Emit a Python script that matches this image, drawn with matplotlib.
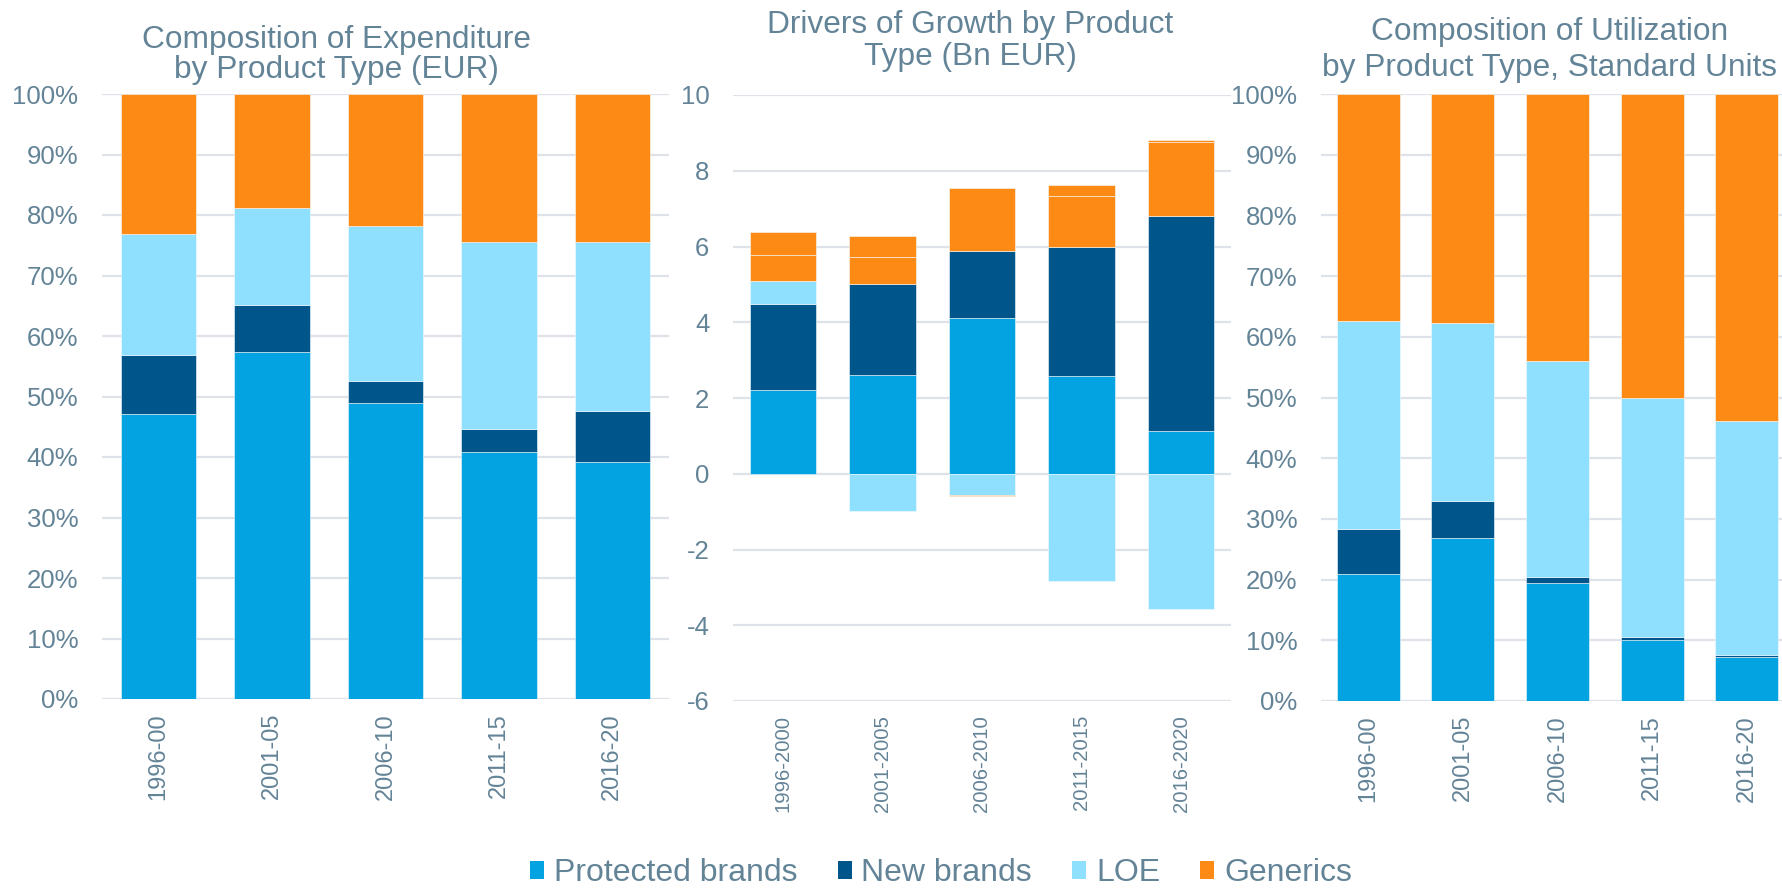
import matplotlib
matplotlib.use("Agg")
import numpy as np
import matplotlib.pyplot as plt
from matplotlib.patches import Patch

plt.rcParams['font.family'] = ['Liberation Sans', 'DejaVu Sans']
plt.rcParams['axes.unicode_minus'] = False

# ---- data ----
periods_short = ["1996-00", "2001-05", "2006-10", "2011-15", "2016-20"]
periods_long = ["1996-2000", "2001-2005", "2006-2010", "2011-2015", "2016-2020"]

# composition of expenditure (% share)
exp_protected = [47.1, 57.3, 49.0, 40.8, 39.2]
exp_new = [9.7, 7.9, 3.6, 3.8, 8.4]
exp_loe = [20.1, 15.9, 25.5, 30.9, 28.0]
exp_generics = [23.1, 18.9, 21.9, 24.5, 24.4]

# drivers of growth (Bn EUR)
gr_protected = [2.20, 2.62, 4.12, 2.57, 1.12]
gr_new = [2.28, 2.40, 1.77, 3.41, 5.69]
gr_loe = [0.61, -0.98, -0.55, -2.83, -3.57]
gr_generics = [0.69, 0.70, 1.65, 1.35, 1.94]
gr_generics_b = [0.61, 0.56, -0.03, 0.30, 0.06]

# composition of utilization (% share)
use_protected = [20.9, 26.8, 19.4, 10.1, 7.3]
use_new = [7.4, 6.1, 1.0, 0.5, 0.3]
use_loe = [34.3, 29.4, 35.6, 39.4, 38.6]
use_generics = [37.4, 37.7, 44.0, 50.0, 53.8]

legend_labels = ["Protected brands", "New brands", "LOE", "Generics"]

# ---- style ----
C_PROT = "#03a2e0"
C_NEW = "#00568a"
C_LOE = "#8fe0ff"
C_GEN = "#fd8a14"
TXT = "#638397"
GRID = "#dde3e8"

W, H = 1783, 889
fig = plt.figure(figsize=(W / 100, H / 100), dpi=100)


def px_axes(x0, x1, y_top, y_bot):
    return fig.add_axes([x0 / W, 1 - y_bot / H, (x1 - x0) / W, (y_bot - y_top) / H])


def style_axis(ax, xlabels, xsize):
    for s in ax.spines.values():
        s.set_visible(False)
    ax.set_axisbelow(True)
    ax.yaxis.grid(True, color=GRID, linewidth=1.6)
    ax.tick_params(axis='y', length=0, pad=17, labelsize=18.5, labelcolor=TXT)
    ax.tick_params(axis='x', length=0, pad=10, labelsize=xsize, labelcolor=TXT)
    ax.set_xticks(range(len(xlabels)))
    ax.set_xticklabels(xlabels, rotation=90)
    ax.set_xlim(-0.5, len(xlabels) - 0.5)


def stacked(ax, series, colors, width):
    x = np.arange(len(series[0]))
    pos = np.zeros(len(x))
    neg = np.zeros(len(x))
    for vals, col in zip(series, colors):
        v = np.array(vals, dtype=float)
        bottom = np.where(v >= 0, pos, neg)
        ax.bar(x, v, width, bottom=bottom, color=col, edgecolor='#f4fbff', linewidth=0.4)
        pos = pos + np.where(v >= 0, v, 0)
        neg = neg + np.where(v < 0, v, 0)


# left chart
ax1 = px_axes(102, 669, 94, 699)
stacked(ax1, [exp_protected, exp_new, exp_loe, exp_generics],
        [C_PROT, C_NEW, C_LOE, C_GEN], 0.666)
style_axis(ax1, periods_short, 17)
ax1.set_ylim(0, 100)
ax1.set_yticks(np.arange(0, 101, 10))
ax1.set_yticklabels([f"{v}%" for v in range(0, 101, 10)])

# middle chart
ax2 = px_axes(733, 1231, 95, 701)
stacked(ax2, [gr_protected, gr_new, gr_loe, gr_generics, gr_generics_b],
        [C_PROT, C_NEW, C_LOE, C_GEN, C_GEN], 0.665)
style_axis(ax2, periods_long, 14.6)
ax2.set_ylim(-6, 10)
ax2.set_yticks(np.arange(-6, 11, 2))

# right chart (runs past the figure edge, like the original)
ax3 = px_axes(1321, 1794, 94, 701)
stacked(ax3, [use_protected, use_new, use_loe, use_generics],
        [C_PROT, C_NEW, C_LOE, C_GEN], 0.665)
style_axis(ax3, periods_short, 17)
ax3.set_ylim(0, 100)
ax3.set_yticks(np.arange(0, 101, 10))
ax3.set_yticklabels([f"{v}%" for v in range(0, 101, 10)])

# titles, one line at a time
titles = [
    (336, [("Composition of Expenditure", 48), ("by Product Type (EUR)", 78)]),
    (970, [("Drivers of Growth by Product", 33), ("Type (Bn EUR)", 65)]),
    (1550, [("Composition of Utilization", 40), ("by Product Type, Standard Units", 76)]),
]
for xc, lines in titles:
    for txt, yb in lines:
        fig.text(xc / W, 1 - yb / H, txt, ha='center', va='baseline',
                 fontsize=22.8, color=TXT)

handles = [Patch(facecolor=c, edgecolor='none') for c in [C_PROT, C_NEW, C_LOE, C_GEN]]
fig.legend(handles, legend_labels, loc='center', bbox_to_anchor=(941 / W, 1 - 873 / H),
           ncol=4, frameon=False, fontsize=23, labelcolor=TXT,
           handlelength=0.45, handleheight=0.5, handletextpad=0.3,
           columnspacing=1.25, borderpad=0, borderaxespad=0)

fig.savefig("out.png", dpi=100)
